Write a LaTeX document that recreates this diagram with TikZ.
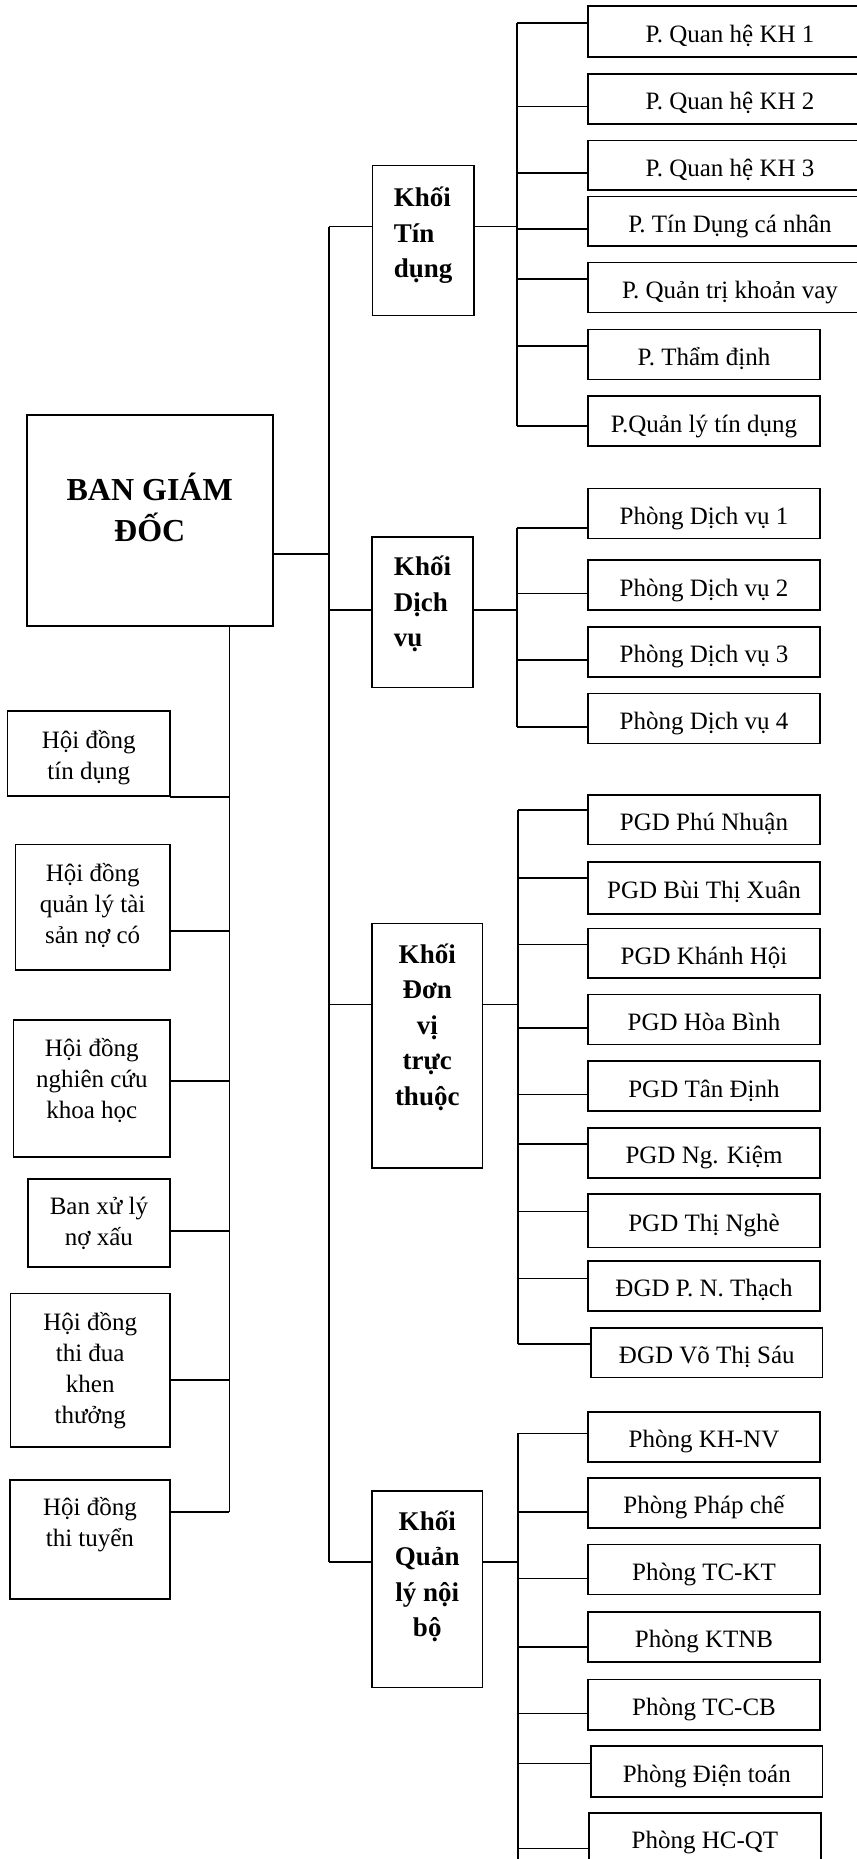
\documentclass[tikz,border=0pt]{standalone}
\usepackage{fontspec}
\setmainfont{Liberation Serif}
\begin{document}
\begin{tikzpicture}[x=1pt,y=-1pt,
  bx/.style={draw, line width=1.6pt, inner sep=0pt, outer sep=0pt},
  rbox/.style={bx, font=\fontsize{25}{31}\selectfont, text height=22pt, text depth=0pt},
  lbox/.style={bx, align=center, font=\fontsize{25}{31}\selectfont, text depth=0pt},
  kbox/.style={bx, font=\bfseries\fontsize{27}{35.5}\selectfont, text depth=0pt},
  ln/.style={line width=1.6pt}]
\useasboundingbox (0,0) rectangle (856,1859);

% ---- BAN GIAM DOC ----
\node[bx, align=center, font=\bfseries\fontsize{32}{41.7}\selectfont, text height=42.4pt, text depth=0pt,
  minimum width=246pt, minimum height=211pt] (bgd) at (149.7,520.5) {BAN GIÁM\\ĐỐC};

% ---- Khoi boxes ----
\node[kbox, align=left, text height=74pt, minimum width=101.7pt, minimum height=150pt] (ktd) at (423.15,240.7) {Khối\\Tín\\dụng};
\node[kbox, align=left, text height=69.4pt, minimum width=101pt, minimum height=150.6pt] (kdv) at (422.5,612) {Khối\\Dịch\\vụ};
\node[kbox, align=center, text height=119pt, minimum width=110.5pt, minimum height=244.4pt] (kdt) at (427.25,1045.5) {Khối\\Đơn\\vị\\trực\\thuộc};
\node[kbox, align=center, text height=95.4pt, minimum width=110.5pt, minimum height=196.6pt] (kql) at (427.25,1589) {Khối\\Quản\\lý nội\\bộ};

% ---- Left boxes ----
\node[lbox, text height=51.6pt, minimum width=162.4pt, minimum height=85pt] (hdtd) at (88.8,753.2) {Hội đồng\\tín dụng};
\node[lbox, text height=72.3pt, minimum width=154.7pt, minimum height=125.7pt] (hdql) at (92.65,907.15) {Hội đồng\\quản lý tài\\sản nợ có};
\node[lbox, text height=59.3pt, minimum width=156.4pt, minimum height=136.7pt] (hdnc) at (91.8,1088.35) {Hội đồng\\nghiên cứu\\khoa học};
\node[lbox, text height=44.6pt, minimum width=142.2pt, minimum height=88pt] (bxl) at (98.9,1222.7) {Ban xử lý\\nợ xấu};
\node[lbox, text height=106.6pt, minimum width=159.6pt, minimum height=153.4pt] (hdtdua) at (90.2,1370) {Hội đồng\\thi đua\\khen\\thưởng};
\node[lbox, text height=14.4pt, minimum width=160.2pt, minimum height=119pt] (hdtt) at (89.9,1539.5) {Hội đồng\\thi tuyển};

% ---- Right boxes: Tin dung ----
\node[rbox, minimum width=284pt, minimum height=51pt] (kh1) at (730,31.5) {P. Quan hệ KH 1};
\node[rbox, minimum width=284pt, minimum height=50pt] (kh2) at (730,99) {P. Quan hệ KH 2};
\node[rbox, minimum width=284pt, minimum height=49.3pt] (kh3) at (730,165.35) {P. Quan hệ KH 3};
\node[rbox, minimum width=284pt, minimum height=49.3pt] (tdcn) at (730,221.35) {P. Tín Dụng cá nhân};
\node[rbox, minimum width=284pt, minimum height=50pt] (qtkv) at (730,287.7) {P. Quản trị khoản vay};
\node[rbox, minimum width=232pt, minimum height=50pt] (thd) at (704,354.3) {P. Thẩm định};
\node[rbox, minimum width=232pt, minimum height=50pt] (qltd) at (704,421) {P.Quản lý tín dụng};

% ---- Dich vu ----
\node[rbox, minimum width=232pt, minimum height=50pt] (dv1) at (704,513.3) {Phòng Dịch vụ 1};
\node[rbox, minimum width=232pt, minimum height=50pt] (dv2) at (704,585) {Phòng Dịch vụ 2};
\node[rbox, minimum width=232pt, minimum height=50pt] (dv3) at (704,651.7) {Phòng Dịch vụ 3};
\node[rbox, minimum width=232pt, minimum height=50pt] (dv4) at (704,718.3) {Phòng Dịch vụ 4};

% ---- Don vi truc thuoc ----
\node[rbox, minimum width=232pt, minimum height=49.3pt] (pn) at (704,819.65) {PGD Phú Nhuận};
\node[rbox, minimum width=232pt, minimum height=52.3pt] (btx) at (704,887.85) {PGD Bùi Thị Xuân};
\node[rbox, minimum width=232pt, minimum height=49.4pt] (khh) at (704,953) {PGD Khánh Hội};
\node[rbox, minimum width=232pt, minimum height=50pt] (hb) at (704,1019.3) {PGD Hòa Bình};
\node[rbox, minimum width=232pt, minimum height=50pt] (tdi) at (704,1086) {PGD Tân Định};
\node[rbox, minimum width=232pt, minimum height=50pt] (nk) at (704,1152.7) {PGD Ng. Kiệm};
\node[rbox, minimum width=232pt, minimum height=53.3pt] (tn) at (704,1220.65) {PGD Thị Nghè};
\node[rbox, minimum width=232pt, minimum height=50pt] (pnt) at (704,1285.7) {ĐGD P. N. Thạch};
\node[rbox, minimum width=231.6pt, minimum height=49.6pt] (vts) at (706.8,1352.5) {ĐGD Võ Thị Sáu};

% ---- Quan ly noi bo ----
\node[rbox, minimum width=232pt, minimum height=50pt] (khnv) at (704,1436.7) {Phòng KH-NV};
\node[rbox, minimum width=232pt, minimum height=50pt] (pc) at (704,1502.7) {Phòng Pháp chế};
\node[rbox, minimum width=232pt, minimum height=50pt] (tckt) at (704,1569.3) {Phòng TC-KT};
\node[rbox, minimum width=232pt, minimum height=50pt] (ktnb) at (704,1636.7) {Phòng KTNB};
\node[rbox, minimum width=232pt, minimum height=50.7pt] (tccb) at (704,1704.65) {Phòng TC-CB};
\node[rbox, minimum width=231.6pt, minimum height=50.7pt] (dt) at (706.8,1771.35) {Phòng Điện toán};
\node[rbox, minimum width=232pt, minimum height=50pt] (hcqt) at (705,1837.7) {Phòng HC-QT};

% ---- main trunk ----
\coordinate (t1) at (329,226.7);
\coordinate (tb) at (329,553.7);
\coordinate (t2) at (329,610);
\coordinate (t3) at (329,1004.3);
\coordinate (t4) at (329,1562);
\draw[ln] (t1) -- (t4);
\draw[ln] (bgd.east |- tb) -- (tb);
\draw[ln] (t1) -- (t1 -| ktd.west);
\draw[ln] (t2) -- (t2 -| kdv.west);
\draw[ln] (t3) -- (t3 -| kdt.west);
\draw[ln] (t4) -- (t4 -| kql.west);

% ---- Khoi to branch lines ----
\coordinate (j1) at (517,226.7);
\coordinate (j2) at (517,610);
\coordinate (j3) at (518,1004.3);
\coordinate (j4) at (518,1562);
\draw[ln] (ktd.east |- j1) -- (j1);
\draw[ln] (kdv.east |- j2) -- (j2);
\draw[ln] (kdt.east |- j3) -- (j3);
\draw[ln] (kql.east |- j4) -- (j4);

% ---- branch: Tin dung ----
\foreach \n/\y in {kh1/23.3, kh2/106.7, kh3/173.3, tdcn/229.3, qtkv/279.3, thd/345.7, qltd/426}{
  \coordinate (s-\n) at (517,\y);
  \draw[ln] (s-\n) -- (s-\n -| \n.west);
}
\draw[ln] (s-kh1) -- (s-qltd);

% ---- branch: Dich vu ----
\foreach \n/\y in {dv1/527.7, dv2/593.3, dv3/660, dv4/726.7}{
  \coordinate (s-\n) at (517,\y);
  \draw[ln] (s-\n) -- (s-\n -| \n.west);
}
\draw[ln] (s-dv1) -- (s-dv4);

% ---- branch: Don vi truc thuoc ----
\foreach \n/\y in {pn/810, btx/877.7, khh/944.3, hb/1027.7, tdi/1094.3, nk/1143.7, tn/1211.3, pnt/1278.3, vts/1344}{
  \coordinate (s-\n) at (518,\y);
  \draw[ln] (s-\n) -- (s-\n -| \n.west);
}
\draw[ln] (s-pn) -- (s-vts);

% ---- branch: Quan ly noi bo ----
\foreach \n/\y in {khnv/1433.3, pc/1512, tckt/1578.3, ktnb/1646.7, tccb/1713.3, dt/1763.3, hcqt/1848.3}{
  \coordinate (s-\n) at (518,\y);
  \draw[ln] (s-\n) -- (s-\n -| \n.west);
}
\coordinate (qlend) at (518,1859);
\draw[ln] (s-khnv) -- (qlend);

% ---- left trunk ----
\foreach \n/\y in {hdtd/796.7, hdql/931, hdnc/1080.7, bxl/1230.7, hdtdua/1380, hdtt/1512}{
  \coordinate (l-\n) at (229.3,\y);
  \draw[ln] (\n.east |- l-\n) -- (l-\n);
}
\draw[ln] (l-hdtt |- bgd.south) -- (l-hdtt);
\end{tikzpicture}
\end{document}
